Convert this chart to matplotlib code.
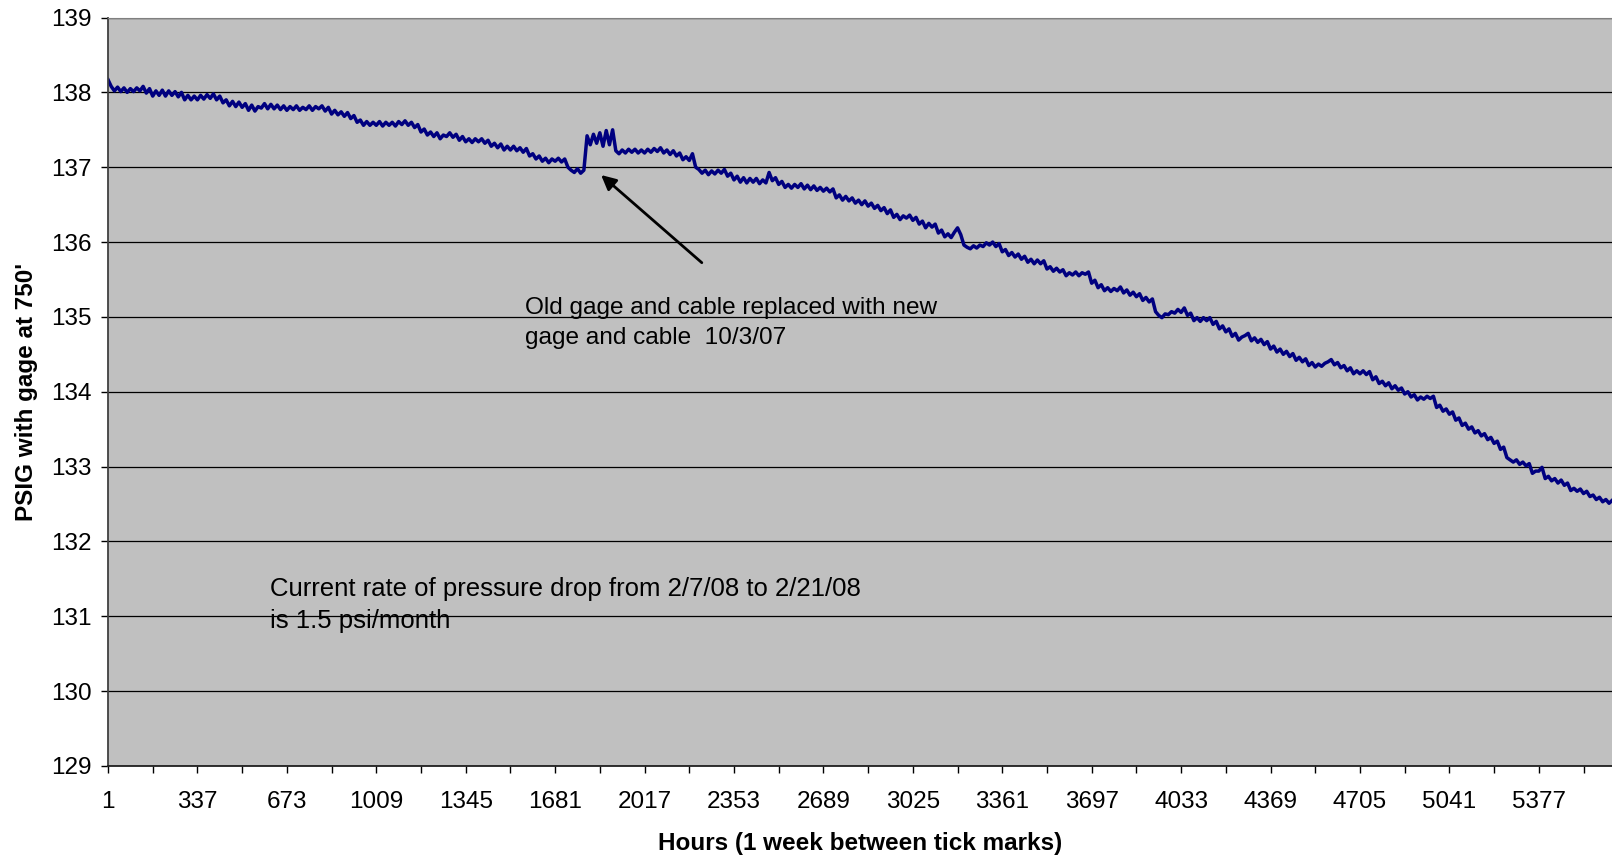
# pressure gage record, hourly test readings, redrawn from the Excel chart
import numpy as np
import matplotlib
matplotlib.use('Agg')
import matplotlib.pyplot as plt

# readings every 12 hours, one row per week
psig = [
    138.17, 138.08, 138.02, 138.07, 138.01, 138.06, 138.00, 138.05, 138.01, 138.06, 138.02, 138.08, 137.99, 138.05,
    137.95, 138.02, 137.96, 138.03, 137.95, 138.02, 137.96, 138.01, 137.94, 138.00, 137.90, 137.96, 137.90, 137.95,
    137.90, 137.96, 137.91, 137.97, 137.92, 137.98, 137.90, 137.95, 137.86, 137.90, 137.82, 137.88, 137.81, 137.87,
    137.80, 137.85, 137.76, 137.83, 137.75, 137.81, 137.79, 137.85, 137.78, 137.84, 137.78, 137.83, 137.77, 137.82,
    137.76, 137.81, 137.77, 137.82, 137.76, 137.80, 137.77, 137.82, 137.76, 137.81, 137.78, 137.82, 137.75, 137.80,
    137.71, 137.76, 137.70, 137.74, 137.68, 137.73, 137.65, 137.69, 137.60, 137.63, 137.56, 137.61, 137.56, 137.60,
    137.56, 137.61, 137.55, 137.60, 137.56, 137.60, 137.55, 137.61, 137.57, 137.62, 137.56, 137.60, 137.53, 137.57,
    137.47, 137.51, 137.43, 137.47, 137.41, 137.46, 137.38, 137.43, 137.41, 137.46, 137.40, 137.44, 137.36, 137.41,
    137.34, 137.38, 137.33, 137.38, 137.34, 137.38, 137.32, 137.36, 137.28, 137.32, 137.26, 137.31, 137.23, 137.28,
    137.23, 137.28, 137.22, 137.26, 137.20, 137.25, 137.15, 137.18, 137.11, 137.15, 137.08, 137.12, 137.06, 137.11,
    137.08, 137.12, 137.07, 137.11, 137.00, 136.96, 136.93, 136.98, 136.92, 136.96, 137.42, 137.30, 137.44, 137.32,
    137.46, 137.28, 137.49, 137.30, 137.50, 137.22, 137.18, 137.23, 137.19, 137.24, 137.20, 137.24, 137.19, 137.23,
    137.19, 137.24, 137.20, 137.25, 137.21, 137.26, 137.19, 137.23, 137.17, 137.22, 137.15, 137.19, 137.10, 137.14,
    137.09, 137.18, 137.00, 136.97, 136.92, 136.96, 136.90, 136.95, 136.91, 136.96, 136.92, 136.97, 136.88, 136.92,
    136.83, 136.88, 136.80, 136.86, 136.79, 136.85, 136.80, 136.85, 136.78, 136.83, 136.79, 136.93, 136.82, 136.86,
    136.77, 136.81, 136.73, 136.77, 136.72, 136.77, 136.73, 136.78, 136.71, 136.76, 136.70, 136.75, 136.69, 136.73,
    136.68, 136.72, 136.67, 136.71, 136.59, 136.63, 136.56, 136.61, 136.55, 136.59, 136.52, 136.56, 136.50, 136.55,
    136.48, 136.52, 136.45, 136.49, 136.42, 136.46, 136.38, 136.43, 136.33, 136.37, 136.30, 136.35, 136.32, 136.36,
    136.29, 136.33, 136.24, 136.28, 136.19, 136.25, 136.20, 136.24, 136.12, 136.16, 136.07, 136.11, 136.06, 136.13,
    136.19, 136.10, 135.96, 135.93, 135.91, 135.95, 135.92, 135.96, 135.94, 135.99, 135.96, 136.00, 135.94, 135.98,
    135.87, 135.90, 135.82, 135.86, 135.80, 135.84, 135.77, 135.81, 135.73, 135.77, 135.71, 135.76, 135.71, 135.75,
    135.64, 135.67, 135.61, 135.65, 135.60, 135.63, 135.55, 135.59, 135.56, 135.60, 135.55, 135.59, 135.57, 135.60,
    135.45, 135.49, 135.39, 135.43, 135.35, 135.39, 135.34, 135.38, 135.35, 135.40, 135.32, 135.36, 135.29, 135.33,
    135.27, 135.31, 135.22, 135.26, 135.20, 135.24, 135.07, 135.02, 134.99, 135.04, 135.03, 135.07, 135.05, 135.10,
    135.06, 135.12, 135.02, 135.05, 134.95, 134.99, 134.94, 134.99, 134.95, 134.99, 134.90, 134.94, 134.84, 134.88,
    134.80, 134.84, 134.74, 134.78, 134.69, 134.73, 134.75, 134.78, 134.68, 134.72, 134.66, 134.70, 134.63, 134.67,
    134.57, 134.61, 134.53, 134.57, 134.50, 134.54, 134.47, 134.51, 134.42, 134.46, 134.40, 134.44, 134.35, 134.39,
    134.33, 134.37, 134.34, 134.38, 134.40, 134.43, 134.36, 134.39, 134.32, 134.35, 134.28, 134.32, 134.24, 134.28,
    134.24, 134.28, 134.23, 134.27, 134.16, 134.20, 134.11, 134.14, 134.08, 134.12, 134.04, 134.08, 134.02, 134.05,
    133.97, 134.00, 133.93, 133.96, 133.89, 133.93, 133.90, 133.94, 133.91, 133.94, 133.79, 133.82, 133.74, 133.77,
    133.70, 133.73, 133.62, 133.65, 133.55, 133.58, 133.50, 133.53, 133.45, 133.48, 133.41, 133.44, 133.36, 133.39,
    133.31, 133.34, 133.23, 133.26, 133.12, 133.09, 133.06, 133.09, 133.03, 133.06, 133.01, 133.04, 132.91, 132.94,
    132.94, 132.99, 132.84, 132.87, 132.81, 132.84, 132.78, 132.82, 132.75, 132.78, 132.68, 132.71, 132.67, 132.70,
    132.64, 132.67, 132.60, 132.62, 132.56, 132.59, 132.53, 132.56, 132.51, 132.55,
]
hours = np.arange(len(psig)) * 12 + 1

# axis settings
x_labels = [1, 337, 673, 1009, 1345, 1681, 2017, 2353, 2689, 3025, 3361, 3697, 4033, 4369, 4705, 5041, 5377]
week_ticks = np.arange(1, 5653, 168)
y_ticks = list(range(129, 140))

note_gage = 'Old gage and cable replaced with new\ngage and cable  10/3/07'
note_rate = 'Current rate of pressure drop from 2/7/08 to 2/21/08\nis 1.5 psi/month'

plt.rcParams['font.family'] = ['Liberation Sans', 'DejaVu Sans']

fig = plt.figure(figsize=(16.12, 8.59), dpi=100)
ax = fig.add_axes([0.067, 0.1083, 0.933, 0.8713])
ax.set_facecolor('#C0C0C0')

ax.plot(hours, psig, color='#000080', linewidth=2.5)

ax.set_xlim(1, 5652)
ax.set_ylim(129, 139)
ax.set_yticks(y_ticks)
ax.set_yticklabels([str(v) for v in y_ticks], fontsize=17.5)
ax.yaxis.grid(True, color='black', linewidth=0.9)
ax.set_axisbelow(True)

ax.set_xticks(x_labels)
ax.set_xticklabels([str(v) for v in x_labels], fontsize=17.5)
ax.set_xticks(week_ticks, minor=True)
ax.tick_params(axis='x', which='both', direction='out', length=5, width=1, pad=13)
ax.tick_params(axis='y', direction='out', length=5, width=1, pad=7)

ax.spines['right'].set_visible(False)
ax.spines['top'].set_color('#808080')
ax.spines['left'].set_color('#404040')
ax.spines['bottom'].set_color('#202020')
ax.spines['left'].set_linewidth(1.3)
ax.spines['bottom'].set_linewidth(1.3)

ax.set_xlabel('Hours (1 week between tick marks)', fontsize=17.5, fontweight='bold', labelpad=14)
ax.set_ylabel("PSIG with gage at 750'", fontsize=17.5, fontweight='bold', labelpad=9)

ax.annotate('', xy=(1846, 136.92), xytext=(2240, 135.70),
            arrowprops=dict(arrowstyle='-|>', color='black', lw=2, mutation_scale=22))
ax.text(1568, 134.92, note_gage, fontsize=17.6, va='center', ha='left', linespacing=1.5)
ax.text(610, 131.15, note_rate, fontsize=18.5, va='center', ha='left', linespacing=1.38)

fig.savefig('out.png', dpi=100)
